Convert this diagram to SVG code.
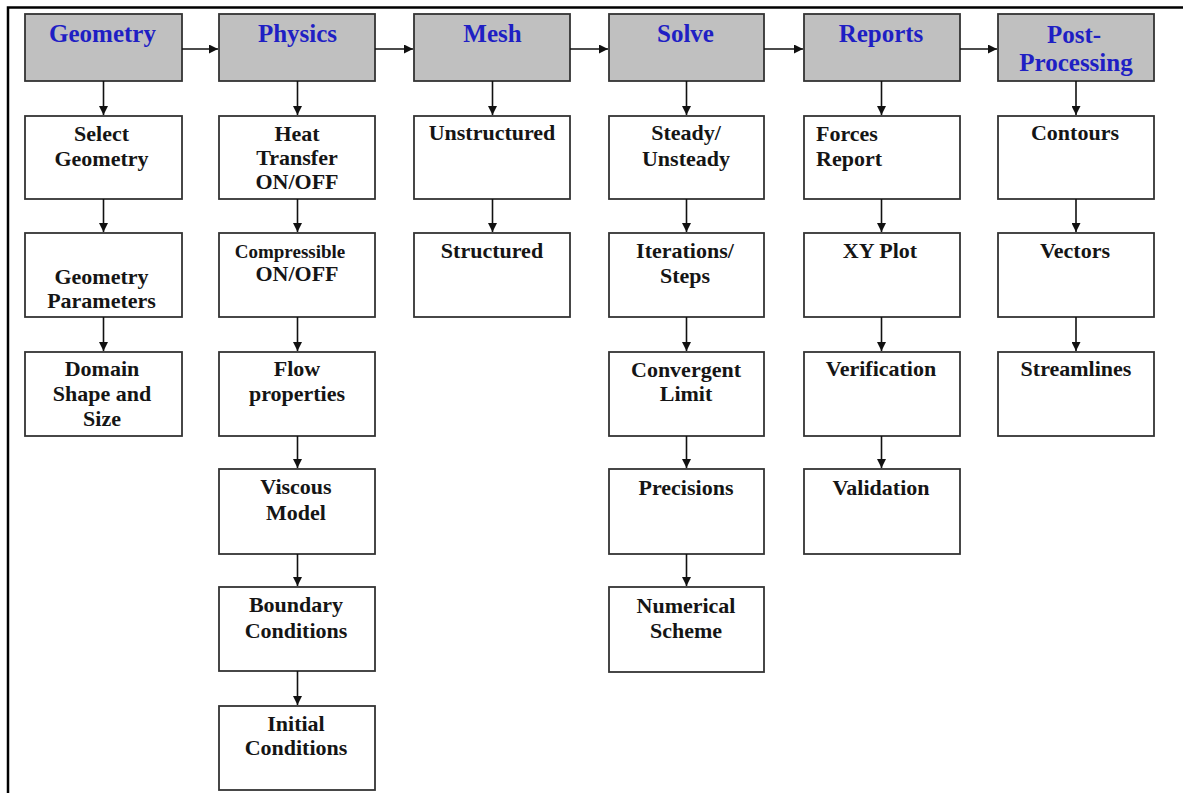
<svg xmlns="http://www.w3.org/2000/svg" width="1183" height="793" viewBox="0 0 1183 793" font-family="'Liberation Serif', 'DejaVu Serif', serif">
  <style>
    .frame { fill: none; stroke: #000; stroke-width: 2.5; }
    .head rect { fill: #c0c0c0; stroke: #333; stroke-width: 1.8; }
    .step rect { fill: #fff; stroke: #333; stroke-width: 1.8; }
    text { font-family: 'Liberation Serif', 'DejaVu Serif', serif; font-weight: bold; }
    .head text { font-size: 25px; fill: #1f1fc4; text-anchor: middle; }
    .step text { font-size: 22px; fill: #151515; text-anchor: middle; }
    .step text.small { font-size: 19px; }
    .step text.left { text-anchor: start; }
    #connectors path { fill: none; stroke: #111; stroke-width: 1.6; marker-end: url(#arrow); }
  </style>
  <defs>
    <marker id="arrow" viewBox="0 0 10 10" refX="10" refY="5" markerWidth="10" markerHeight="9" markerUnits="userSpaceOnUse" orient="auto">
      <path d="M0,0 L10,5 L0,10 Z" fill="#111"/>
    </marker>
  </defs>

  <rect width="1183" height="793" fill="#fff"/>
  <path class="frame" d="M8,793 V7.5 H1183"/>

  <!-- stage headers -->
  <g id="geometry" class="head"><rect x="25" y="14" width="157" height="67"/><text x="102.5" y="42">Geometry</text></g>
  <g id="physics" class="head"><rect x="219" y="14" width="156" height="67"/><text x="297.5" y="42">Physics</text></g>
  <g id="mesh" class="head"><rect x="414" y="14" width="156" height="67"/><text x="492.5" y="42">Mesh</text></g>
  <g id="solve" class="head"><rect x="609" y="14" width="155" height="67"/><text x="685.5" y="42">Solve</text></g>
  <g id="reports" class="head"><rect x="804" y="14" width="156" height="67"/><text x="881" y="42">Reports</text></g>
  <g id="post" class="head"><rect x="998" y="14" width="156" height="67"/><text x="1074" y="43">Post-</text><text x="1076" y="71">Processing</text></g>

  <!-- Geometry column -->
  <g id="select-geometry" class="step"><rect x="25" y="116" width="157" height="83"/><text x="101.5" y="141">Select</text><text x="101.5" y="166">Geometry</text></g>
  <g id="geometry-parameters" class="step"><rect x="25" y="233" width="157" height="84"/><text x="101.5" y="284">Geometry</text><text x="101.5" y="308">Parameters</text></g>
  <g id="domain" class="step"><rect x="25" y="352" width="157" height="84"/><text x="102" y="376">Domain</text><text x="102" y="401">Shape and</text><text x="102" y="426">Size</text></g>

  <!-- Physics column -->
  <g id="heat-transfer" class="step"><rect x="219" y="116" width="156" height="83"/><text x="297" y="141">Heat</text><text x="297" y="165">Transfer</text><text x="297" y="189">ON/OFF</text></g>
  <g id="compressible" class="step"><rect x="219" y="233" width="156" height="84"/><text class="small" x="290" y="258">Compressible</text><text x="297" y="281">ON/OFF</text></g>
  <g id="flow-properties" class="step"><rect x="219" y="352" width="156" height="84"/><text x="297" y="376">Flow</text><text x="297" y="401">properties</text></g>
  <g id="viscous-model" class="step"><rect x="219" y="469" width="156" height="85"/><text x="296" y="494">Viscous</text><text x="296" y="520">Model</text></g>
  <g id="boundary-conditions" class="step"><rect x="219" y="587" width="156" height="84"/><text x="296" y="612">Boundary</text><text x="296" y="638">Conditions</text></g>
  <g id="initial-conditions" class="step"><rect x="219" y="706" width="156" height="84"/><text x="296" y="731">Initial</text><text x="296" y="755">Conditions</text></g>

  <!-- Mesh column -->
  <g id="unstructured" class="step"><rect x="414" y="116" width="156" height="83"/><text x="492" y="140">Unstructured</text></g>
  <g id="structured" class="step"><rect x="414" y="233" width="156" height="84"/><text x="492" y="258">Structured</text></g>

  <!-- Solve column -->
  <g id="steady" class="step"><rect x="609" y="116" width="155" height="83"/><text x="686" y="140">Steady/</text><text x="686" y="166">Unsteady</text></g>
  <g id="iterations" class="step"><rect x="609" y="233" width="155" height="84"/><text x="685" y="258">Iterations/</text><text x="685" y="283">Steps</text></g>
  <g id="convergent-limit" class="step"><rect x="609" y="352" width="155" height="84"/><text x="686" y="377">Convergent</text><text x="686" y="401">Limit</text></g>
  <g id="precisions" class="step"><rect x="609" y="469" width="155" height="85"/><text x="686" y="495">Precisions</text></g>
  <g id="numerical-scheme" class="step"><rect x="609" y="587" width="155" height="85"/><text x="686" y="613">Numerical</text><text x="686" y="638">Scheme</text></g>

  <!-- Reports column -->
  <g id="forces-report" class="step"><rect x="804" y="116" width="156" height="83"/><text class="left" x="816" y="141">Forces</text><text class="left" x="816" y="166">Report</text></g>
  <g id="xy-plot" class="step"><rect x="804" y="233" width="156" height="84"/><text x="880" y="258">XY Plot</text></g>
  <g id="verification" class="step"><rect x="804" y="352" width="156" height="84"/><text x="881" y="376">Verification</text></g>
  <g id="validation" class="step"><rect x="804" y="469" width="156" height="85"/><text x="881" y="495">Validation</text></g>

  <!-- Post-Processing column -->
  <g id="contours" class="step"><rect x="998" y="116" width="156" height="83"/><text x="1075" y="140">Contours</text></g>
  <g id="vectors" class="step"><rect x="998" y="233" width="156" height="84"/><text x="1075" y="258">Vectors</text></g>
  <g id="streamlines" class="step"><rect x="998" y="352" width="156" height="84"/><text x="1076" y="376">Streamlines</text></g>

  <g id="connectors">
    <!-- stage sequence -->
    <path d="M182,49 H218"/>
    <path d="M375,49 H413"/>
    <path d="M570,49 H608"/>
    <path d="M764,49 H803"/>
    <path d="M960,49 H997"/>
    <!-- Geometry -->
    <path d="M103.5,81 V115"/>
    <path d="M103.5,199 V232"/>
    <path d="M103.5,317 V351"/>
    <!-- Physics -->
    <path d="M297.5,81 V115"/>
    <path d="M297.5,199 V232"/>
    <path d="M297.5,317 V351"/>
    <path d="M297.5,436 V468"/>
    <path d="M297.5,554 V586"/>
    <path d="M297.5,671 V705"/>
    <!-- Mesh -->
    <path d="M492.5,81 V115"/>
    <path d="M492.5,199 V232"/>
    <!-- Solve -->
    <path d="M686.5,81 V115"/>
    <path d="M686.5,199 V232"/>
    <path d="M686.5,317 V351"/>
    <path d="M686.5,436 V468"/>
    <path d="M686.5,554 V586"/>
    <!-- Reports -->
    <path d="M881.5,81 V115"/>
    <path d="M881.5,199 V232"/>
    <path d="M881.5,317 V351"/>
    <path d="M881.5,436 V468"/>
    <!-- Post-Processing -->
    <path d="M1076,81 V115"/>
    <path d="M1076,199 V232"/>
    <path d="M1076,317 V351"/>
  </g>
</svg>
